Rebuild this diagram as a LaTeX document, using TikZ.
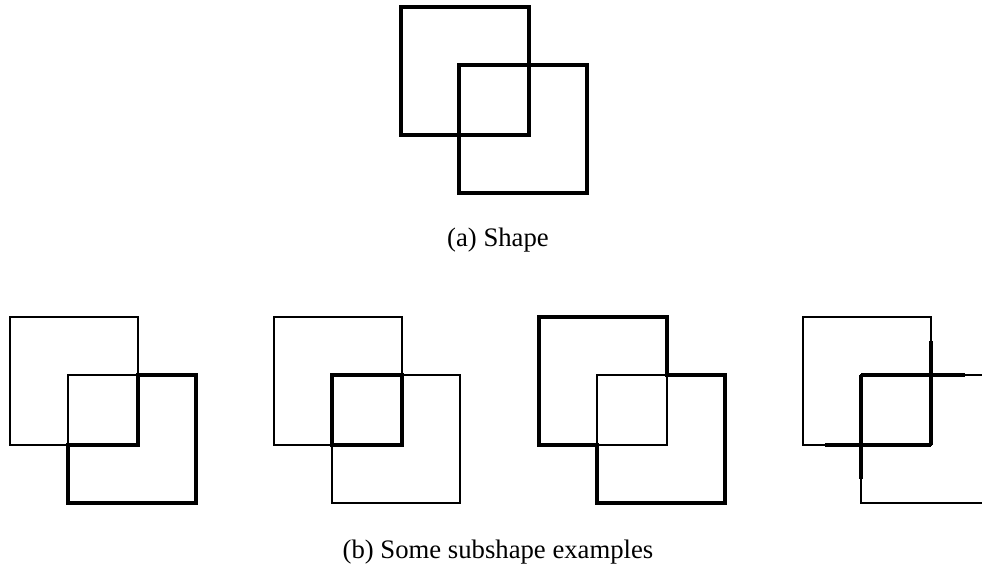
\documentclass[tikz,border=0pt]{standalone}
\usepackage{fontspec}
\setmainfont{Liberation Serif}
\usetikzlibrary{positioning}
\tikzset{
  lightedge/.style={line width=1.9pt},
  heavyedge/.style={line width=4.2pt, line join=miter},
  shapeedge/.style={line width=3.1pt},
  caption/.style={font=\fontsize{26.7}{32}\selectfont}
}

\begin{document}
\begin{tikzpicture}[x=1pt, y=-1pt]
    \useasboundingbox (0,0) rectangle (982,568);
    \clip (0,0) rectangle (982,568);
    % Shape
    \coordinate (P) at (401,7);
    \coordinate (Q) at (459,65);
    \draw[shapeedge] (P) rectangle ++(128,128);
    \draw[shapeedge] (Q) rectangle ++(128,128);
    \node[caption] (capa) at (498,240) {(a) Shape};
    % Subshapes, thin outlines
    \foreach \x in {10,274,539,803} {
      \draw[lightedge] (\x,317) rectangle ++(128,128);
      \draw[lightedge] (\x+58,375) rectangle ++(128,128);
    }
    % Subshape 1
    \draw[heavyedge] (68,445) -- (68,503) -- (196,503) -- (196,375) -- (138,375) -- (138,445) -- cycle;
    % Subshape 2
    \draw[heavyedge] (332,375) rectangle (402,445);
    % Subshape 3
    \draw[heavyedge] (539,317) -- (667,317) -- (667,375) -- (725,375) -- (725,503)
      -- (597,503) -- (597,445) -- (539,445) -- cycle;
    % Subshape 4
    \draw[heavyedge] (861,375) -- (965,375);
    \draw[heavyedge] (931,341) -- (931,445);
    \draw[heavyedge] (825,445) -- (931,445);
    \draw[heavyedge] (861,375) -- (861,479);
    \node[caption] (capb) at (498,552) {(b) Some subshape examples};
\end{tikzpicture}
\end{document}
